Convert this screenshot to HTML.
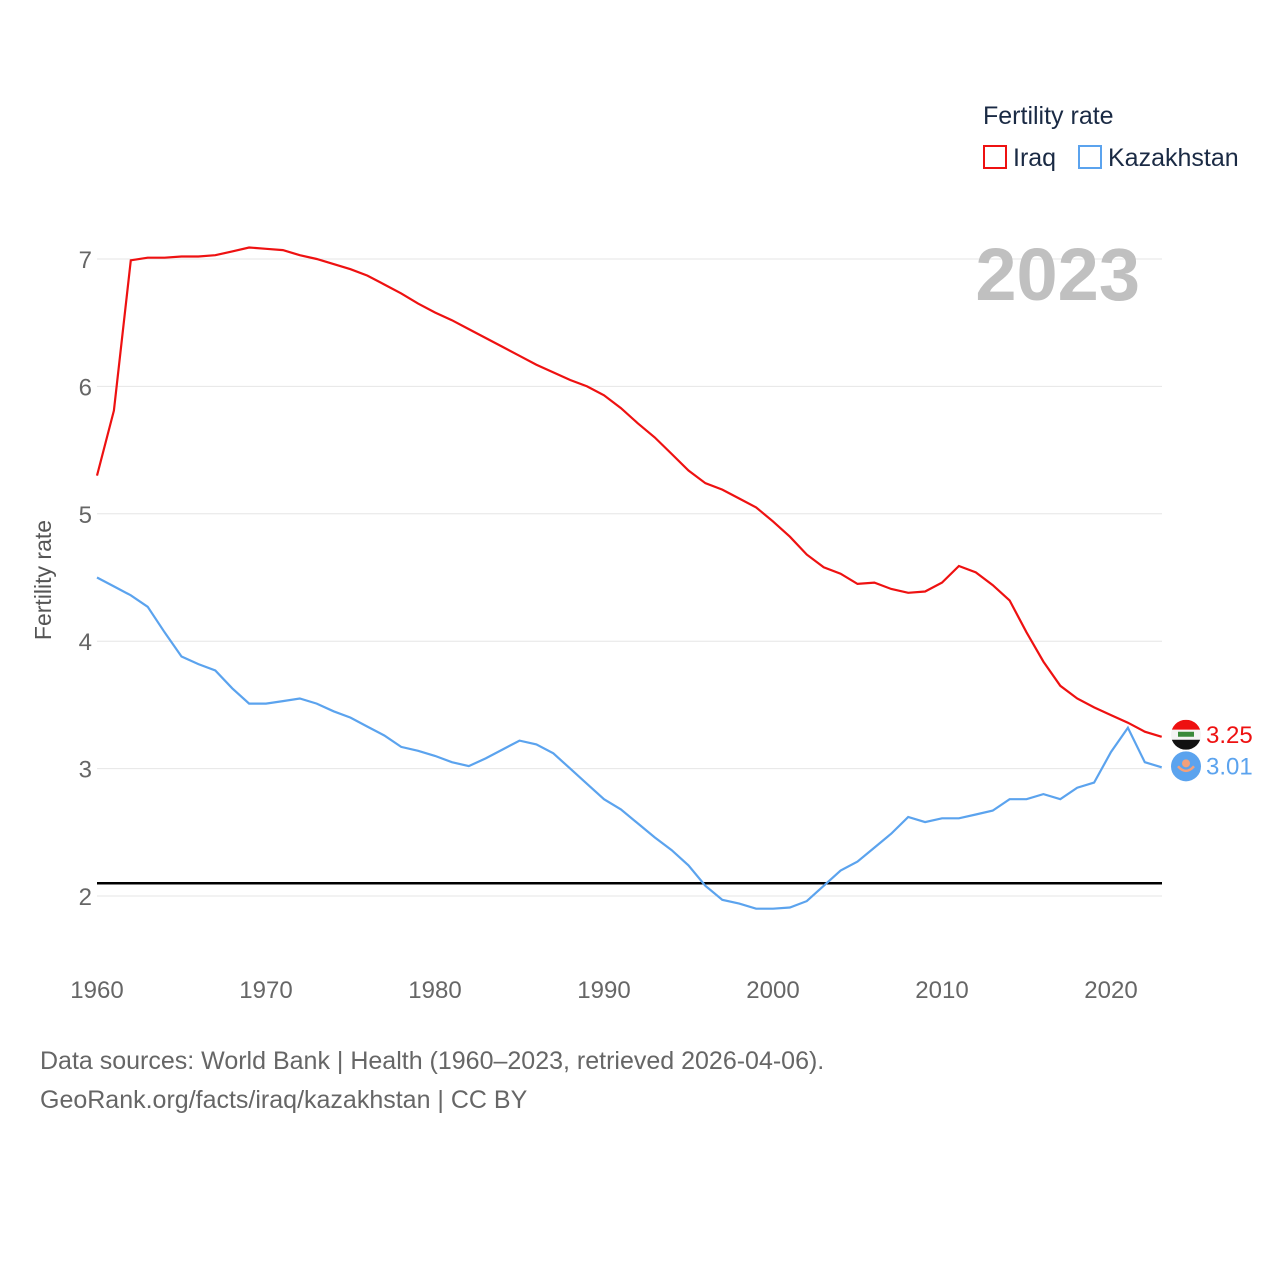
<!DOCTYPE html>
<html><head><meta charset="utf-8">
<style>
html,body{margin:0;padding:0;background:#fff;}
body{width:1280px;height:1280px;overflow:hidden;font-family:"Liberation Sans",sans-serif;}
svg text{font-family:"Liberation Sans",sans-serif;}
</style></head>
<body>
<svg id="chart" width="1280" height="1280" xmlns="http://www.w3.org/2000/svg">
<g id="grid"></g>
<g id="yticks"></g>
<g id="xticks"></g>
<text x="0" y="0" transform="translate(51,580) rotate(-90)" text-anchor="middle" font-size="23" fill="#555">Fertility rate</text>
<text x="1140" y="300" text-anchor="end" font-size="74" font-weight="bold" fill="#c0c0c0">2023</text>
<text x="983" y="124" font-size="25" fill="#1a2a44">Fertility rate</text>
<g>
<rect x="984" y="146" width="22" height="22" fill="none" stroke="#ee1111" stroke-width="2"/>
<text x="1013" y="166" font-size="25" fill="#1a2a44">Iraq</text></g>
<g>
<rect x="1079" y="146" width="22" height="22" fill="none" stroke="#5ba3ee" stroke-width="2"/>
<text x="1108" y="166" font-size="25" fill="#1a2a44">Kazakhstan</text></g>
<line id="ref" x1="97" x2="1162" stroke="#000" stroke-width="2.5"/>
<path id="iraq" fill="none" stroke="#ee1111" stroke-width="2.2"/>
<path id="kaz" fill="none" stroke="#5ba3ee" stroke-width="2.2"/>
<g id="endlabels"></g>
<text x="40" y="1069" font-size="25" fill="#666">Data sources: World Bank | Health (1960–2023, retrieved 2026-04-06).</text>
<text x="40" y="1108" font-size="25" fill="#666">GeoRank.org/facts/iraq/kazakhstan | CC BY</text>
</svg>
<script>
const years = [];
for (let y = 1960; y <= 2023; y++) years.push(y);
const iraq = [5.30,5.81,6.99,7.01,7.01,7.02,7.02,7.03,7.06,7.09,7.08,7.07,7.03,7.00,6.96,6.92,6.87,6.80,6.73,6.65,6.58,6.52,6.45,6.38,6.31,6.24,6.17,6.11,6.05,6.00,5.93,5.83,5.71,5.60,5.47,5.34,5.24,5.19,5.12,5.05,4.94,4.82,4.68,4.58,4.53,4.45,4.46,4.41,4.38,4.39,4.46,4.59,4.54,4.44,4.32,4.07,3.84,3.65,3.55,3.48,3.42,3.36,3.29,3.25];
const kazakhstan = [4.50,4.43,4.36,4.27,4.07,3.88,3.82,3.77,3.63,3.51,3.51,3.53,3.55,3.51,3.45,3.40,3.33,3.26,3.17,3.14,3.10,3.05,3.02,3.08,3.15,3.22,3.19,3.12,3.00,2.88,2.76,2.68,2.57,2.46,2.36,2.24,2.08,1.97,1.94,1.90,1.90,1.91,1.96,2.08,2.20,2.27,2.38,2.49,2.62,2.58,2.61,2.61,2.64,2.67,2.76,2.76,2.80,2.76,2.85,2.89,3.13,3.32,3.05,3.01];
const yTicks = [2,3,4,5,6,7];
const xTicks = [1960,1970,1980,1990,2000,2010,2020];
const replacementRate = 2.1;

const NS = "http://www.w3.org/2000/svg";
const xS = y => 97 + (y - 1960) * 16.9;
const yS = v => 259 + (7 - v) * 127.4;
function mk(tag, attrs, parent, txt) {
  const e = document.createElementNS(NS, tag);
  for (const k in attrs) e.setAttribute(k, attrs[k]);
  if (txt !== undefined) e.textContent = txt;
  parent.appendChild(e); return e;
}
const grid = document.getElementById('grid'), yt = document.getElementById('yticks'), xt = document.getElementById('xticks');
yTicks.forEach(v => {
  const l = mk('line', {x1: 97, x2: 1162, y1: yS(v), y2: yS(v), stroke: '#e6e6e6', 'stroke-width': 1}, grid);
  
  
  const t = mk('text', {x: 92, y: yS(v) + 9, 'text-anchor': 'end', 'font-size': 24, fill: '#666'}, yt, String(v));
  
  
});
xTicks.forEach(v => {
  const t = mk('text', {x: xS(v), y: 998, 'text-anchor': 'middle', 'font-size': 24, fill: '#666'}, xt, String(v));
  
  
});
const ref = document.getElementById('ref');
ref.setAttribute('y1', yS(replacementRate)); ref.setAttribute('y2', yS(replacementRate));
const pathD = arr => arr.map((v, i) => (i ? 'L' : 'M') + xS(years[i]).toFixed(1) + ',' + yS(v).toFixed(1)).join('');
document.getElementById('iraq').setAttribute('d', pathD(iraq));
document.getElementById('kaz').setAttribute('d', pathD(kazakhstan));

const el = document.getElementById('endlabels');
const li = years.length - 1;
// Iraq end marker
const iy = yS(iraq[li]) - 2, ky = yS(kazakhstan[li]) - 1;
const g1 = mk('g', {}, el);


mk('defs', {}, g1).innerHTML = '<clipPath id="fc"><circle cx="1186" cy="' + iy + '" r="15"/></clipPath>';
mk('rect', {x: 1171, y: iy - 15, width: 30, height: 10, fill: '#ee1111', 'clip-path': 'url(#fc)'}, g1);
mk('rect', {x: 1171, y: iy - 5, width: 30, height: 10, fill: '#f4f4f4', 'clip-path': 'url(#fc)'}, g1);
mk('rect', {x: 1171, y: iy + 5, width: 30, height: 10, fill: '#111', 'clip-path': 'url(#fc)'}, g1);
mk('rect', {x: 1178, y: iy - 3, width: 16, height: 5, fill: '#3a8a3a'}, g1);
mk('text', {x: 1206, y: iy + 8, 'font-size': 24, fill: '#ee1111'}, g1, iraq[li].toFixed(2));
const g2 = mk('g', {}, el);


mk('circle', {cx: 1186, cy: ky, r: 15, fill: '#5ba3ee'}, g2);
mk('circle', {cx: 1186, cy: ky - 3, r: 4, fill: '#f3a07a'}, g2);
mk('path', {d: 'M1178,' + ky + ' Q1186,' + (ky + 9) + ' 1194,' + ky, fill: 'none', stroke: '#f3a07a', 'stroke-width': 2.5}, g2);
mk('text', {x: 1206, y: ky + 8, 'font-size': 24, fill: '#5ba3ee'}, g2, kazakhstan[li].toFixed(2));
</script>
</body></html>
